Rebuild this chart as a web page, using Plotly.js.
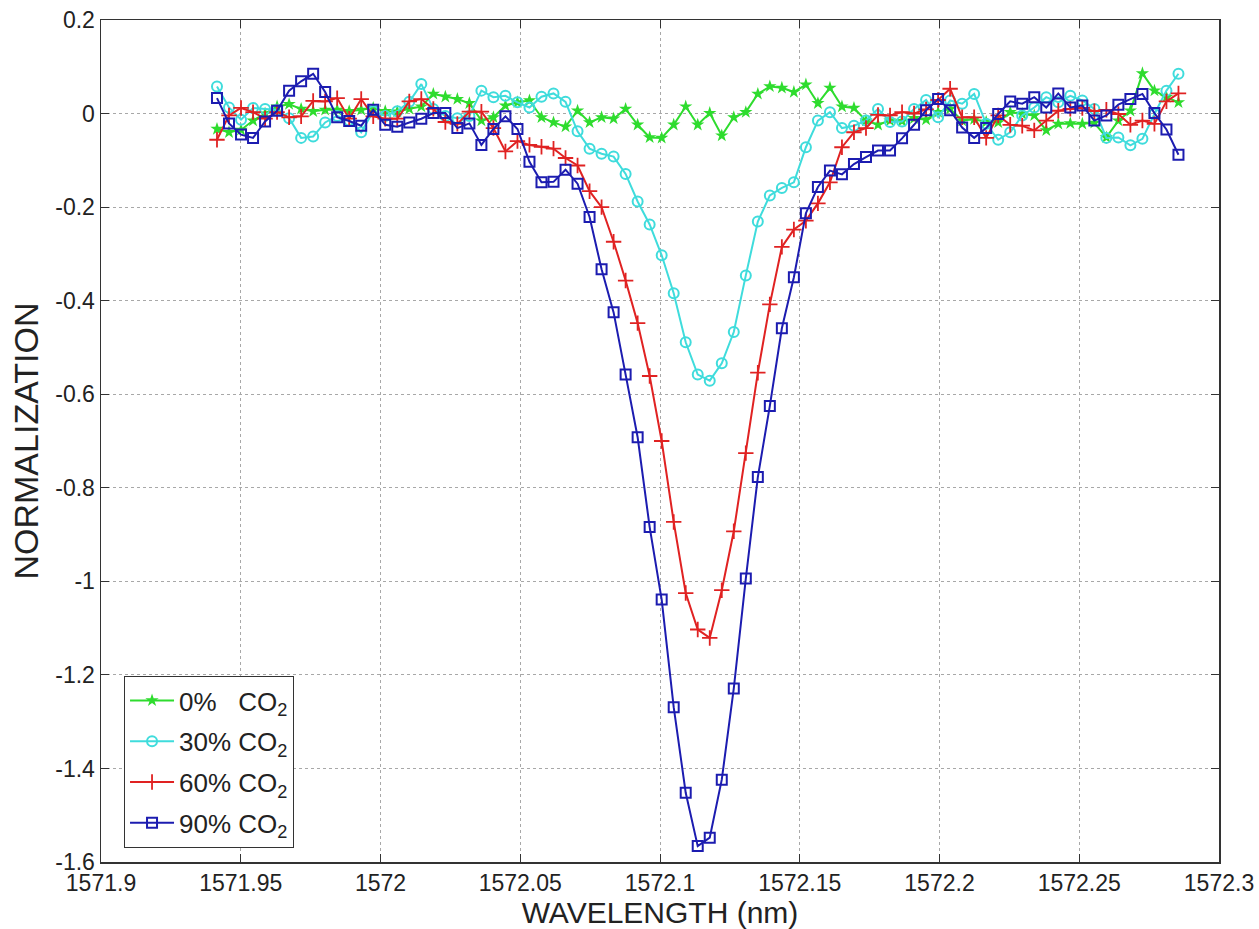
<!DOCTYPE html>
<html>
<head>
<meta charset="utf-8">
<script src="https://cdn.plot.ly/plotly-3.0.1.min.js"></script>
<style>html,body{margin:0;padding:0;background:#fff;}</style>
</head>
<body>
<div id="chart" style="width:1259px;height:929px;"></div>
<script>
// Wavelength samples (nm)
const wavelength = [
 1571.9415,1571.9458,1571.9501,1571.9544,1571.9587,1571.9630,1571.9673,1571.9716,1571.9759,1571.9802,
 1571.9845,1571.9888,1571.9931,1571.9974,1572.0017,1572.0060,1572.0103,1572.0146,1572.0189,1572.0232,
 1572.0275,1572.0318,1572.0361,1572.0404,1572.0447,1572.0490,1572.0533,1572.0576,1572.0619,1572.0662,
 1572.0705,1572.0748,1572.0791,1572.0834,1572.0877,1572.0920,1572.0963,1572.1006,1572.1049,1572.1092,
 1572.1135,1572.1178,1572.1221,1572.1264,1572.1307,1572.1350,1572.1393,1572.1436,1572.1479,1572.1522,
 1572.1565,1572.1608,1572.1651,1572.1694,1572.1737,1572.1780,1572.1823,1572.1866,1572.1909,1572.1952,
 1572.1995,1572.2038,1572.2081,1572.2124,1572.2167,1572.2210,1572.2253,1572.2296,1572.2339,1572.2382,
 1572.2425,1572.2468,1572.2511,1572.2554,1572.2597,1572.2640,1572.2683,1572.2726,1572.2769,1572.2812,
 1572.2855];

const co2_0 = [
 -0.033,-0.040,-0.035,-0.015,0.000,0.015,0.020,0.010,0.005,0.008,
 0.008,0.005,0.008,0.012,0.005,0.004,0.010,0.015,0.042,0.036,
 0.031,0.022,-0.015,-0.008,0.017,0.024,0.028,-0.008,-0.019,-0.028,
 0.006,-0.019,-0.008,-0.011,0.010,-0.024,-0.051,-0.052,-0.024,0.015,
 -0.024,0.001,-0.047,-0.008,0.003,0.042,0.058,0.055,0.046,0.062,
 0.022,0.055,0.015,0.012,-0.015,-0.024,-0.015,-0.016,-0.010,-0.013,
 0.003,0.010,-0.015,-0.012,-0.018,-0.019,0.003,-0.001,-0.004,-0.036,
 -0.022,-0.021,-0.022,-0.020,-0.051,-0.015,0.006,0.086,0.049,0.035,
 0.024];

const co2_30 = [
 0.058,0.013,-0.013,0.012,0.010,0.008,-0.010,-0.052,-0.049,-0.019,
 -0.005,-0.015,-0.040,0.005,-0.005,0.005,0.025,0.063,0.010,-0.005,
 -0.010,-0.005,0.049,0.035,0.038,0.024,0.013,0.036,0.043,0.025,
 -0.038,-0.075,-0.086,-0.092,-0.129,-0.188,-0.237,-0.303,-0.384,-0.489,
 -0.558,-0.571,-0.534,-0.467,-0.346,-0.231,-0.175,-0.159,-0.147,-0.072,
 -0.015,0.003,-0.031,-0.026,-0.015,0.010,-0.018,-0.017,0.010,0.029,
 -0.008,0.028,0.021,0.042,-0.022,-0.056,-0.040,-0.004,0.013,0.035,
 0.024,0.038,0.028,0.010,-0.052,-0.051,-0.068,-0.054,-0.001,0.049,
 0.085];

const co2_60 = [
 -0.056,-0.004,0.012,0.003,-0.011,0.003,-0.008,-0.006,0.027,0.026,
 0.033,-0.011,0.031,-0.006,-0.011,-0.011,0.026,0.031,0.010,-0.018,
 -0.022,0.004,0.004,-0.031,-0.081,-0.059,-0.067,-0.071,-0.075,-0.095,
 -0.111,-0.166,-0.200,-0.274,-0.357,-0.448,-0.561,-0.700,-0.873,-1.025,
 -1.103,-1.121,-1.019,-0.893,-0.726,-0.554,-0.408,-0.285,-0.248,-0.229,
 -0.192,-0.147,-0.072,-0.040,-0.031,-0.003,-0.004,0.003,0.000,0.009,
 0.029,0.053,-0.008,-0.008,-0.052,-0.004,-0.024,-0.026,-0.036,-0.015,
 0.006,0.010,0.012,0.005,0.008,-0.001,-0.024,-0.015,-0.022,0.026,
 0.043];

const co2_90 = [
 0.033,-0.021,-0.045,-0.052,-0.017,0.006,0.049,0.069,0.085,0.046,
 -0.008,-0.016,-0.026,0.008,-0.024,-0.028,-0.019,-0.011,0.001,0.001,
 -0.031,-0.021,-0.067,-0.033,-0.006,-0.033,-0.103,-0.147,-0.146,-0.120,
 -0.150,-0.221,-0.333,-0.425,-0.558,-0.692,-0.884,-1.039,-1.269,-1.452,
 -1.566,-1.548,-1.424,-1.229,-0.994,-0.777,-0.625,-0.459,-0.350,-0.213,
 -0.157,-0.122,-0.130,-0.108,-0.093,-0.079,-0.079,-0.053,-0.024,0.007,
 0.031,0.007,-0.030,-0.052,-0.031,-0.001,0.026,0.021,0.035,0.013,
 0.043,0.013,0.017,-0.015,-0.004,0.019,0.031,0.042,0.001,-0.034,
 -0.088];

const seriesNames = ['0%\u00a0\u00a0\u00a0CO<sub>2</sub>', '30% CO<sub>2</sub>', '60% CO<sub>2</sub>', '90% CO<sub>2</sub>'];

const xTickVals = [1571.9, 1571.95, 1572, 1572.05, 1572.1, 1572.15, 1572.2, 1572.25, 1572.3];
const xTickText = ['1571.9', '1571.95', '1572', '1572.05', '1572.1', '1572.15', '1572.2', '1572.25', '1572.3'];
const yTickVals = [0.2, 0, -0.2, -0.4, -0.6, -0.8, -1, -1.2, -1.4, -1.6];
const yTickText = ['0.2', '0', '-0.2', '-0.4', '-0.6', '-0.8', '-1', '-1.2', '-1.4', '-1.6'];

const FONT = 'Liberation Sans, Arial, Helvetica, sans-serif';

const traces = [
  {x: wavelength, y: co2_0, name: seriesNames[0], legendgroup: 'g0', type: 'scatter', mode: 'lines+markers',
   line: {color: '#2edc2e', width: 2},
   marker: {symbol: 'star', size: 10, color: '#2edc2e', line: {width: 0}}},
  {x: wavelength, y: co2_30, name: seriesNames[1], legendgroup: 'g1', type: 'scatter', mode: 'lines+markers',
   line: {color: '#3fdcdc', width: 2},
   marker: {symbol: 'circle-open', size: 10, color: '#3fdcdc', line: {width: 2}}},
  {x: wavelength, y: co2_60, name: seriesNames[2], legendgroup: 'g2', type: 'scatter', mode: 'lines+markers',
   line: {color: '#e02222', width: 2},
   marker: {symbol: 'cross-thin-open', size: 11, color: '#e02222', line: {width: 1.8, color: '#e02222'}}},
  {x: wavelength, y: co2_90, name: seriesNames[3], legendgroup: 'g3', type: 'scatter', mode: 'lines+markers',
   line: {color: '#1c1cb0', width: 2},
   marker: {symbol: 'square-open', size: 10, color: '#1c1cb0', line: {width: 2}}}
];

const layout = {
  width: 1259, height: 929, autosize: false,
  paper_bgcolor: '#ffffff', plot_bgcolor: '#ffffff',
  margin: {l: 101, r: 40, t: 20, b: 67, pad: 0},
  font: {family: FONT, color: '#222'},
  showlegend: true,
  xaxis: {
    range: [1571.9, 1572.3], autorange: false,
    tickmode: 'array', tickvals: xTickVals, ticktext: xTickText,
    ticks: 'inside', ticklen: 8, tickwidth: 1, tickcolor: '#333',
    showline: true, linecolor: '#333', linewidth: 1.5, mirror: 'ticks',
    showgrid: true, gridcolor: '#a8a8a8', griddash: 'dot', gridwidth: 1,
    zeroline: false,
    tickfont: {family: FONT, size: 23, color: '#222'},
    title: {text: 'WAVELENGTH (nm)', font: {family: FONT, size: 30, color: '#222'}, standoff: 4},
    automargin: false
  },
  yaxis: {
    range: [-1.6, 0.2], autorange: false,
    tickmode: 'array', tickvals: yTickVals, ticktext: yTickText,
    ticks: 'inside', ticklen: 8, tickwidth: 1, tickcolor: '#333',
    showline: true, linecolor: '#333', linewidth: 1.5, mirror: 'ticks',
    showgrid: true, gridcolor: '#a8a8a8', griddash: 'dot', gridwidth: 1,
    zeroline: false,
    tickfont: {family: FONT, size: 23, color: '#222'},
    title: {text: 'NORMALIZATION', font: {family: FONT, size: 34, color: '#222'}, standoff: 6},
    automargin: false
  },
  legend: {
    x: 0.0206, y: 0.0166, xanchor: 'left', yanchor: 'bottom',
    bgcolor: '#ffffff', bordercolor: '#333', borderwidth: 1,
    font: {family: FONT, size: 26, color: '#222'},
    itemwidth: 44, tracegroupgap: 4
  }
};

Plotly.newPlot('chart', traces, layout, {displayModeBar: false, staticPlot: true});
</script>
</body>
</html>
